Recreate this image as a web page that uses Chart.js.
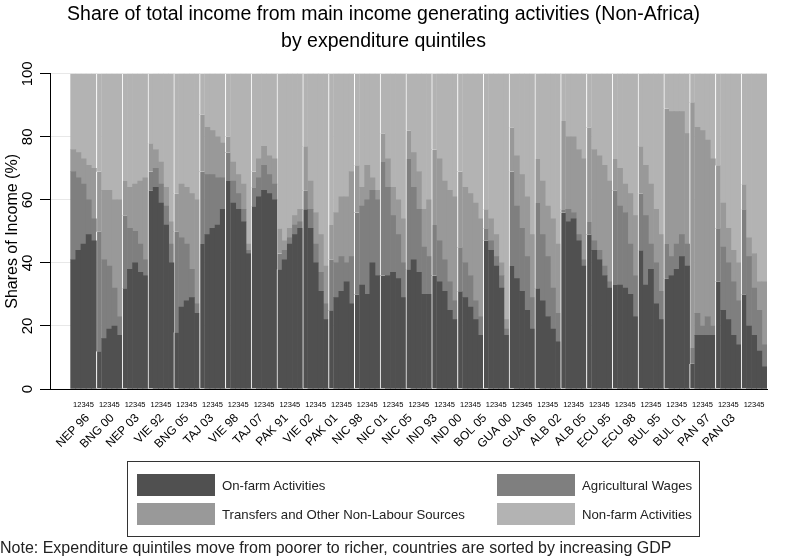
<!DOCTYPE html>
<html>
<head>
<meta charset="utf-8">
<title>Share of total income (Non-Africa)</title>
<script src="https://cdn.jsdelivr.net/npm/chart.js@4.4.1/dist/chart.umd.min.js"></script>
<style>
  body { margin: 0; background: #fff; font-family: 'Liberation Sans', Arial, sans-serif; }
  #wrap { position: relative; width: 788px; height: 558px; }
  #legend { position: absolute; left: 127px; top: 461px; width: 571px; height: 74px; border: 1px solid #333; }
  .item { position: absolute; height: 22px; display: flex; align-items: center; font-size: 13.2px; color: #222; white-space: nowrap; }
  .swatch { display: inline-block; width: 78px; height: 22px; margin-right: 7px; }
  #note { position: absolute; left: 0px; top: 539px; font-size: 16px; color: #222; white-space: nowrap; }
</style>
</head>
<body>
<div id="wrap">
  <canvas id="incomeChart"></canvas>
  <div id="legend"></div>
  <div id="note">Note: Expenditure quintiles move from poorer to richer, countries are sorted by increasing GDP</div>
</div>
<script>
// --- data (shares in %, one row of 5 quintiles per country) ---
const countries = ['NEP 96', 'BNG 00', 'NEP 03', 'VIE 92', 'BNG 05', 'TAJ 03', 'VIE 98', 'TAJ 07', 'PAK 91',
    'VIE 02', 'PAK 01', 'NIC 98', 'NIC 01', 'NIC 05', 'IND 93', 'IND 00', 'BOL 05', 'GUA 00', 'GUA 06',
    'ALB 02', 'ALB 05', 'ECU 95', 'ECU 98', 'BUL 95', 'BUL 01', 'PAN 97', 'PAN 03'];
const quintiles = ['1', '2', '3', '4', '5'];
const yTicks = [0, 20, 40, 60, 80, 100];

const onFarm = [
    [41, 44, 46, 49, 47], [12, 16, 19, 20, 17], [32, 38, 40, 37, 36], [63, 64, 59, 52, 40],
    [18, 26, 28, 29, 24], [46, 49, 51, 52, 57], [66, 59, 57, 53, 43], [58, 61, 63, 62, 60],
    [38, 41, 46, 49, 51], [57, 51, 40, 31, 22], [25, 29, 31, 34, 27], [30, 33, 30, 40, 36],
    [36, 36, 37, 35, 29], [38, 41, 37, 30, 30], [36, 34, 31, 25, 22], [31, 29, 26, 22, 17],
    [47, 44, 39, 32, 17], [39, 35, 31, 25, 19], [32, 28, 23, 19, 15], [56, 53, 54, 47, 39],
    [49, 44, 41, 36, 32], [33, 33, 32, 30, 23], [44, 33, 38, 27, 22], [35, 36, 38, 42, 39],
    [8, 17, 17, 17, 17], [34, 25, 22, 17, 14], [30, 20, 17, 12, 7]
];
const agWages = [
    [28, 23, 19, 11, 7], [38, 25, 20, 12, 6], [23, 13, 10, 9, 5], [6, 6, 6, 6, 6],
    [32, 22, 18, 9, 3], [23, 19, 17, 15, 10], [9, 7, 5, 4, 1], [6, 6, 8, 6, 5],
    [5, 3, 2, 3, 2], [6, 6, 6, 6, 5], [16, 11, 11, 6, 15], [26, 25, 30, 23, 24],
    [36, 28, 18, 14, 11], [35, 23, 20, 15, 12], [16, 13, 10, 9, 6], [14, 11, 10, 6, 6],
    [4, 3, 3, 4, 2], [30, 23, 20, 17, 10], [27, 21, 19, 13, 9], [1, 4, 2, 2, 2],
    [4, 3, 3, 3, 2], [30, 25, 24, 16, 13], [18, 22, 8, 13, 9], [11, 6, 8, 7, 7],
    [5, 7, 3, 6, 3], [17, 20, 18, 17, 14], [27, 22, 15, 13, 7]
];
const transfers = [
    [7, 8, 8, 11, 16], [19, 22, 24, 28, 37], [11, 13, 15, 20, 26], [9, 6, 7, 6, 7],
    [12, 17, 18, 24, 33], [18, 15, 14, 13, 11], [5, 6, 6, 8, 2], [5, 6, 6, 6, 8],
    [8, 3, 3, 3, 4], [14, 9, 10, 12, 12], [11, 16, 19, 21, 27], [15, 6, 11, 4, 3],
    [9, 9, 9, 11, 14], [9, 11, 12, 12, 18], [24, 26, 25, 29, 33], [24, 24, 26, 31, 31],
    [6, 7, 7, 4, 3], [14, 16, 17, 19, 20], [14, 17, 16, 22, 22], [28, 23, 24, 27, 32],
    [30, 29, 30, 32, 32], [10, 12, 9, 16, 19], [15, 16, 19, 17, 18], [43, 46, 42, 39, 35],
    [78, 59, 62, 56, 53], [20, 14, 11, 10, 12], [8, 6, 11, 9, 20]
];
const nonFarm = [
    [24, 25, 27, 29, 30], [31, 37, 37, 40, 40], [34, 36, 35, 34, 33], [22, 24, 28, 36, 47],
    [38, 35, 36, 38, 40], [13, 17, 18, 20, 22], [20, 28, 32, 35, 54], [31, 27, 23, 26, 27],
    [49, 53, 49, 45, 43], [23, 34, 44, 51, 61], [48, 44, 39, 39, 31], [29, 36, 29, 33, 37],
    [19, 27, 36, 40, 46], [18, 25, 31, 43, 40], [24, 27, 34, 37, 39], [31, 36, 38, 41, 46],
    [43, 46, 51, 60, 78], [17, 26, 32, 39, 51], [27, 34, 42, 46, 54], [15, 20, 20, 24, 27],
    [17, 24, 26, 29, 34], [27, 30, 35, 38, 45], [23, 29, 35, 43, 51], [11, 12, 12, 12, 19],
    [9, 17, 18, 21, 27], [29, 41, 49, 56, 60], [35, 52, 57, 66, 66]
];

// --- layout helpers ---
const LEAD = 4;   // empty slots between the y axis and the first bar
const nBars = countries.length * quintiles.length;

function flatSeries(rows) {
    return Array(LEAD).fill(null).concat(rows.flat());
}

// "12345" under the middle bar of each country, blank elsewhere
const xLabels = Array(LEAD).fill('');
countries.forEach(() => {
    quintiles.forEach((q, i) => xLabels.push(i === 2 ? quintiles.join('') : ''));
});

// white gap line at the left edge of each country group
function groupBorder(ctx) {
    const k = ctx.dataIndex - LEAD;
    return (k > 0 && k % quintiles.length === 0) ? { left: 1, right: 0, top: 0, bottom: 0 } : 0;
}

function makeDataset(label, rows, color) {
    return {
        label: label,
        data: flatSeries(rows),
        backgroundColor: color,
        borderColor: '#ffffff',
        borderWidth: groupBorder,
        barPercentage: 1,
        categoryPercentage: 1
    };
}

Chart.defaults.font.family = "'Liberation Sans', Arial, sans-serif";
Chart.defaults.color = '#000';

const chart = new Chart(document.getElementById('incomeChart'), {
    type: 'bar',
    data: {
        labels: xLabels,
        datasets: [
            makeDataset('On-farm Activities', onFarm, '#505050'),
            makeDataset('Agricultural Wages', agWages, '#7f7f7f'),
            makeDataset('Transfers and Other Non-Labour Sources', transfers, '#999999'),
            makeDataset('Non-farm Activities', nonFarm, '#b3b3b3')
        ]
    },
    options: {
        responsive: true,
        maintainAspectRatio: false,
        animation: false,
        layout: { padding: { left: 0, right: 21, top: 0, bottom: 97 } },
        plugins: {
            legend: { display: false },
            tooltip: { enabled: false },
            title: {
                display: true,
                text: ['Share of total income from main income generating activities (Non-Africa)',
                       'by expenditure quintiles'],
                color: '#000',
                font: { size: 19.5, weight: 'normal', lineHeight: 1.38 },
                padding: { top: 1, bottom: 19 }
            }
        },
        scales: {
            x: {
                stacked: true,
                weight: 0,
                grid: { display: false, drawTicks: false },
                border: { display: true, color: '#000', width: 1 },
                ticks: { autoSkip: false, maxRotation: 0, minRotation: 0, padding: 11, font: { size: 7.5 } },
                afterFit: function(scale) { scale.height = 22; }
            },
            countryAxis: {
                type: 'linear',
                position: 'bottom',
                weight: 1,
                min: 0,
                max: LEAD + nBars,
                grid: { display: false, drawTicks: false },
                border: { display: false },
                afterBuildTicks: function(scale) {
                    // anchor the end of each rotated name just left of the group centre
                    scale.ticks = countries.map((c, g) => ({ value: LEAD + g * quintiles.length + 0.9 }));
                },
                ticks: {
                    autoSkip: false,
                    minRotation: 45,
                    maxRotation: 45,
                    padding: 0,
                    font: { size: 12 },
                    callback: function(value, index) { return countries[index]; }
                },
                afterFit: function(scale) { scale.height = 50; }
            },
            y: {
                stacked: true,
                min: 0,
                max: 100,
                afterBuildTicks: function(scale) {
                    scale.ticks = yTicks.map(v => ({ value: v }));
                },
                ticks: { minRotation: 90, maxRotation: 90, crossAlign: 'center', padding: 0, font: { size: 15 } },
                grid: { color: '#e8e8e8', tickColor: '#000', tickLength: 10, lineWidth: 1 },
                border: { display: true, color: '#000', width: 1 },
                title: {
                    display: true,
                    text: 'Shares of Income (%)',
                    font: { size: 16 },
                    padding: { top: 3, bottom: 0 }
                },
                afterFit: function(scale) { scale.width = 50; }
            }
        }
    }
});

// legend in a 2 x 2 grid, built from the datasets
const legendBox = document.getElementById('legend');
chart.data.datasets.forEach(function(ds, i) {
    const item = document.createElement('div');
    item.className = 'item';
    item.style.left = (i % 2 ? 369 : 9) + 'px';
    item.style.top = (12 + Math.floor(i / 2) * 29) + 'px';
    const sw = document.createElement('span');
    sw.className = 'swatch';
    sw.style.background = ds.backgroundColor;
    item.appendChild(sw);
    item.appendChild(document.createTextNode(ds.label));
    legendBox.appendChild(item);
});
</script>
</body>
</html>
